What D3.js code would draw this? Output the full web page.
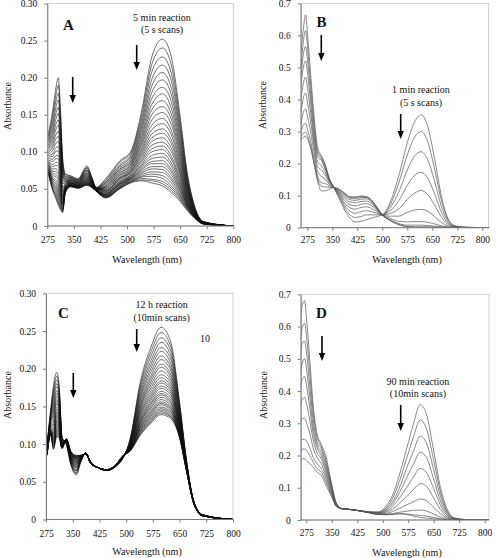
<!DOCTYPE html>
<html><head><meta charset="utf-8">
<script src="https://cdn.jsdelivr.net/npm/d3@7"></script>
<style>
body{margin:0;background:#fff}
svg{display:block}
svg text{font-family:"Liberation Serif","DejaVu Serif","Times New Roman",serif !important;fill:#111}
</style>
</head><body>
<svg id="chart" width="496" height="558" font-family="Liberation Serif, DejaVu Serif, serif"></svg>
<script>
// ---------- Panel A: 5 min reaction, 5 s scans (rows = wavelengths, columns = successive scans) ----------
const wlA = [278,290,300,306,312,318,326,340,362,387,400,413,440,480,510,540,570,600,625,650,670,690,715,800];
const absA = [
[.124,.121,.118,.115,.112,.109,.106,.104,.101,.099,.097,.095,.093,.091,.089,.088,.086,.085,.083,.082,.081,.079,.078,.077,.076,.075,.074,.073,.072,.071,.070],
[.155,.149,.142,.136,.130,.125,.120,.115,.110,.106,.102,.097,.094,.090,.087,.083,.080,.077,.074,.072,.069,.066,.064,.062,.060,.058,.056,.053,.051,.050,.048],
[.188,.179,.170,.161,.153,.145,.138,.131,.124,.118,.112,.106,.101,.095,.091,.086,.082,.077,.073,.069,.066,.062,.059,.056,.053,.050,.047,.044,.041,.038,.036],
[.200,.190,.179,.170,.160,.152,.143,.136,.128,.121,.114,.107,.101,.095,.090,.085,.080,.074,.070,.066,.062,.057,.054,.050,.047,.044,.040,.037,.033,.031,.028],
[.160,.152,.143,.136,.128,.121,.115,.108,.102,.097,.091,.086,.081,.076,.072,.068,.063,.059,.056,.052,.049,.046,.043,.040,.037,.034,.032,.029,.026,.024,.022],
[.095,.090,.086,.082,.077,.073,.070,.066,.063,.060,.057,.053,.051,.048,.046,.043,.041,.039,.037,.035,.033,.031,.030,.028,.027,.025,.023,.022,.020,.019,.018],
[.070,.069,.067,.066,.064,.063,.062,.061,.060,.059,.058,.057,.056,.055,.054,.053,.053,.052,.051,.051,.050,.049,.049,.048,.048,.047,.047,.046,.046,.045,.045],
[.068,.067,.066,.065,.065,.064,.063,.062,.062,.061,.061,.060,.059,.059,.058,.058,.058,.057,.057,.056,.056,.056,.055,.055,.055,.054,.054,.054,.054,.053,.053],
[.064,.063,.062,.062,.061,.060,.060,.059,.059,.058,.058,.057,.057,.056,.056,.055,.055,.055,.054,.054,.054,.053,.053,.053,.052,.052,.052,.052,.051,.051,.051],
[.081,.079,.078,.076,.075,.074,.072,.071,.070,.069,.068,.067,.066,.065,.064,.064,.063,.062,.061,.061,.060,.059,.059,.058,.058,.057,.057,.056,.056,.055,.055],
[.067,.066,.065,.064,.064,.063,.062,.061,.061,.060,.060,.059,.058,.058,.057,.057,.057,.056,.056,.055,.055,.055,.054,.054,.054,.053,.053,.053,.053,.052,.052],
[.052,.052,.051,.051,.051,.051,.050,.050,.050,.050,.050,.049,.049,.049,.049,.049,.049,.048,.048,.048,.048,.048,.048,.048,.048,.048,.047,.047,.047,.047,.047],
[.064,.062,.061,.059,.058,.057,.055,.054,.053,.052,.051,.050,.049,.048,.047,.047,.046,.045,.044,.044,.043,.042,.042,.041,.041,.040,.040,.039,.039,.038,.038],
[.088,.086,.083,.081,.079,.077,.076,.074,.072,.071,.069,.068,.066,.065,.064,.063,.061,.060,.059,.058,.057,.057,.056,.055,.054,.053,.053,.052,.051,.051,.050],
[.100,.098,.095,.093,.090,.088,.086,.084,.082,.081,.079,.077,.076,.074,.073,.072,.071,.069,.068,.067,.066,.065,.064,.064,.063,.062,.061,.060,.059,.059,.058],
[.152,.147,.141,.136,.131,.127,.122,.118,.114,.110,.107,.103,.100,.097,.094,.091,.088,.086,.083,.081,.079,.077,.075,.073,.071,.069,.067,.066,.064,.062,.061],
[.228,.218,.208,.198,.189,.180,.172,.164,.157,.150,.143,.136,.130,.124,.119,.114,.109,.104,.100,.095,.091,.087,.084,.080,.077,.073,.070,.067,.063,.061,.058],
[.252,.240,.228,.217,.207,.197,.187,.178,.169,.161,.153,.145,.138,.131,.125,.119,.113,.108,.103,.098,.093,.088,.084,.080,.076,.072,.068,.064,.060,.057,.054],
[.228,.217,.206,.196,.186,.177,.168,.159,.151,.144,.137,.129,.123,.116,.111,.105,.100,.094,.090,.085,.081,.076,.073,.069,.065,.062,.058,.054,.051,.048,.045],
[.148,.141,.134,.128,.122,.116,.110,.105,.100,.095,.091,.086,.082,.078,.074,.071,.068,.064,.061,.058,.055,.053,.050,.048,.046,.043,.041,.039,.037,.035,.033],
[.072,.069,.066,.063,.060,.058,.055,.053,.051,.049,.047,.045,.043,.041,.039,.038,.036,.035,.034,.032,.031,.030,.029,.028,.027,.026,.025,.024,.023,.022,.021],
[.028,.027,.026,.025,.024,.023,.022,.022,.021,.020,.020,.019,.018,.018,.017,.017,.016,.016,.015,.015,.014,.014,.014,.013,.013,.013,.012,.012,.012,.011,.011],
[.006,.006,.006,.005,.005,.005,.005,.005,.005,.005,.005,.004,.004,.004,.004,.004,.004,.004,.004,.004,.004,.004,.003,.003,.003,.003,.003,.003,.003,.003,.003],
[0,0,0,0,0,0,0,0,0,0,0,0,0,0,0,0,0,0,0,0,0,0,0,0,0,0,0,0,0,0,0]
];

// ---------- Panel B: 1 min reaction, 5 s scans (one row per scan) ----------
const wlB = [256,263,270,276,285,296,306,317,328,341,355,371,387,403,419,436,452,468,484,500,522,549,575,597,616,635,656,678,699,721,758,820];
const absB = [
[.55,.62,.664,.60,.48,.34,.25,.225,.20,.155,.125,.09,.055,.03,.018,.02,.025,.03,.035,.040,.075,.160,.265,.330,.352,.320,.220,.095,.025,.005,.001,0],
[.50,.58,.615,.56,.45,.32,.24,.22,.195,.152,.125,.095,.062,.04,.032,.035,.04,.04,.04,.040,.068,.138,.227,.283,.300,.272,.187,.082,.022,.004,.001,0],
[.47,.54,.565,.52,.42,.30,.23,.215,.19,.15,.125,.10,.07,.052,.045,.05,.053,.05,.045,.040,.06,.11,.18,.224,.237,.215,.148,.064,.017,.003,.001,0],
[.44,.50,.52,.48,.39,.28,.22,.21,.185,.148,.125,.104,.077,.062,.058,.063,.065,.06,.05,.040,.052,.083,.132,.163,.173,.157,.108,.047,.013,.003,0,0],
[.40,.45,.47,.435,.36,.265,.205,.195,.175,.145,.125,.108,.085,.072,.068,.073,.075,.068,.055,.040,.044,.058,.088,.108,.116,.105,.072,.032,.009,.002,0,0],
[.36,.405,.42,.39,.33,.25,.19,.18,.165,.14,.125,.111,.092,.08,.078,.082,.083,.075,.058,.040,.036,.036,.048,.055,.057,.052,.036,.016,.005,.001,0,0],
[.32,.36,.37,.345,.30,.23,.175,.16,.152,.135,.125,.114,.098,.087,.085,.089,.09,.08,.06,.040,.03,.02,.018,.019,.019,.017,.012,.006,.002,0,0,0],
[.30,.32,.325,.305,.27,.21,.16,.14,.138,.13,.125,.117,.103,.092,.09,.094,.094,.083,.062,.040,.026,.013,.008,.008,.008,.007,.005,.003,.001,0,0,0],
[.285,.295,.298,.285,.255,.20,.15,.13,.127,.126,.125,.119,.106,.095,.094,.097,.096,.085,.063,.040,.024,.01,.004,.003,.003,.003,.002,.001,0,0,0,0],
[.275,.282,.285,.275,.248,.195,.145,.115,.115,.12,.125,.12,.108,.097,.096,.099,.097,.086,.064,.040,.023,.009,.003,.001,.001,.001,.001,0,0,0,0,0]
];

// ---------- Panel C: 12 h reaction, 10 min scans (rows = wavelengths, columns = scans) ----------
const wlC = [278,288,296,305,312,320,332,345,360,372,387,400,425,445,470,492,510,540,570,598,625,650,670,690,715,800];
const absC = [
[.100,.099,.098,.097,.097,.096,.095,.094,.094,.093,.093,.092,.091,.091,.090,.090,.090,.089,.089,.088,.088,.088,.087,.087,.087,.086,.086,.086,.086,.085,.085],
[.145,.143,.141,.139,.137,.136,.134,.133,.131,.130,.129,.127,.126,.125,.124,.123,.122,.121,.120,.119,.118,.118,.117,.116,.116,.115,.114,.114,.113,.113,.112],
[.178,.173,.168,.163,.159,.154,.150,.146,.142,.139,.136,.132,.129,.126,.124,.121,.119,.116,.114,.112,.110,.108,.106,.104,.102,.101,.099,.097,.096,.094,.093],
[.195,.190,.185,.180,.176,.171,.167,.163,.159,.156,.153,.149,.146,.143,.141,.138,.136,.133,.131,.129,.127,.125,.123,.121,.119,.118,.116,.114,.113,.111,.110],
[.178,.174,.170,.166,.162,.158,.155,.152,.149,.146,.143,.140,.138,.135,.133,.131,.129,.127,.125,.123,.122,.120,.119,.117,.116,.114,.113,.112,.110,.109,.108],
[.110,.109,.108,.107,.106,.106,.105,.104,.103,.103,.102,.101,.101,.100,.100,.099,.099,.098,.098,.098,.097,.097,.096,.096,.096,.095,.095,.095,.095,.094,.094],
[.100,.100,.101,.101,.102,.102,.102,.103,.103,.103,.104,.104,.104,.104,.105,.105,.105,.105,.105,.106,.106,.106,.106,.106,.106,.106,.107,.107,.107,.107,.107],
[.072,.073,.074,.075,.076,.077,.078,.079,.080,.080,.081,.082,.082,.083,.084,.084,.085,.085,.086,.086,.087,.087,.087,.088,.088,.088,.089,.089,.090,.090,.090],
[.059,.061,.062,.064,.065,.066,.068,.069,.070,.071,.072,.073,.074,.075,.076,.076,.077,.078,.079,.079,.080,.081,.081,.082,.082,.083,.083,.084,.084,.085,.085],
[.075,.076,.076,.077,.077,.078,.078,.079,.079,.080,.080,.080,.081,.081,.081,.082,.082,.082,.083,.083,.083,.083,.084,.084,.084,.084,.084,.085,.085,.085,.085],
[.088,.088,.088,.088,.088,.088,.088,.088,.088,.088,.088,.088,.088,.088,.088,.087,.087,.087,.087,.087,.087,.087,.087,.087,.087,.087,.087,.087,.087,.087,.087],
[.076,.076,.076,.076,.076,.076,.076,.076,.076,.076,.076,.076,.076,.076,.076,.075,.075,.075,.075,.075,.075,.075,.075,.075,.075,.075,.075,.075,.075,.075,.075],
[.068,.068,.068,.068,.068,.068,.068,.068,.068,.068,.068,.068,.068,.068,.068,.068,.068,.068,.068,.068,.068,.068,.068,.068,.068,.068,.068,.068,.068,.068,.068],
[.065,.065,.065,.065,.065,.065,.065,.065,.065,.065,.065,.065,.065,.065,.065,.066,.066,.066,.066,.066,.066,.066,.066,.066,.066,.066,.066,.066,.066,.066,.066],
[.070,.070,.070,.070,.071,.071,.071,.071,.071,.071,.071,.071,.071,.071,.071,.071,.071,.071,.072,.072,.072,.072,.072,.072,.072,.072,.072,.072,.072,.072,.072],
[.082,.082,.083,.083,.083,.083,.083,.083,.083,.083,.084,.084,.084,.084,.084,.084,.084,.084,.084,.084,.084,.084,.084,.085,.085,.085,.085,.085,.085,.085,.085],
[.105,.104,.103,.102,.102,.101,.100,.099,.099,.098,.098,.097,.096,.096,.095,.095,.095,.094,.094,.093,.093,.093,.092,.092,.092,.091,.091,.091,.091,.090,.090],
[.183,.179,.175,.171,.167,.163,.160,.156,.153,.150,.148,.145,.142,.140,.138,.135,.133,.131,.129,.128,.126,.124,.123,.121,.120,.118,.117,.116,.114,.113,.112],
[.229,.223,.217,.211,.206,.201,.196,.191,.187,.183,.179,.175,.171,.167,.164,.161,.158,.155,.153,.150,.148,.145,.143,.141,.139,.137,.135,.133,.131,.130,.128],
[.255,.248,.241,.235,.228,.223,.217,.212,.206,.202,.197,.192,.188,.184,.181,.177,.174,.170,.167,.165,.162,.159,.156,.154,.152,.149,.147,.145,.143,.141,.139],
[.236,.230,.224,.218,.213,.207,.202,.198,.193,.189,.185,.181,.177,.174,.171,.168,.165,.162,.159,.156,.154,.151,.149,.147,.145,.143,.141,.139,.137,.136,.134],
[.156,.153,.150,.148,.145,.143,.140,.138,.136,.134,.132,.130,.128,.127,.125,.124,.122,.121,.120,.119,.117,.116,.115,.114,.113,.112,.111,.110,.109,.109,.108],
[.077,.076,.075,.075,.074,.073,.072,.072,.071,.071,.070,.069,.069,.068,.068,.068,.067,.067,.066,.066,.066,.065,.065,.065,.065,.064,.064,.064,.063,.063,.063],
[.024,.024,.024,.024,.023,.023,.023,.023,.023,.023,.023,.022,.022,.022,.022,.022,.022,.022,.022,.022,.022,.022,.022,.022,.022,.021,.021,.021,.021,.021,.021],
[.006,.006,.006,.006,.006,.006,.006,.006,.006,.006,.006,.006,.006,.006,.006,.005,.005,.005,.005,.005,.005,.005,.005,.005,.005,.005,.005,.005,.005,.005,.005],
[0,0,0,0,0,0,0,0,0,0,0,0,0,0,0,0,0,0,0,0,0,0,0,0,0,0,0,0,0,0,0]
];

// ---------- Panel D: 90 min reaction, 10 min scans (one row per scan) ----------
const wlD = [256,264,270,276,285,295,306,319,332,348,364,380,401,422,443,464,485,507,528,549,570,591,610,628,649,670,691,713,750,813];
const absD = [
[.60,.67,.68,.62,.50,.36,.27,.235,.20,.12,.05,.035,.033,.03,.028,.025,.025,.04,.075,.14,.22,.30,.358,.33,.22,.10,.03,.006,.001,0],
[.55,.60,.61,.565,.46,.34,.26,.228,.19,.115,.05,.035,.033,.03,.027,.025,.024,.035,.065,.12,.19,.26,.31,.285,.19,.087,.025,.005,.001,0],
[.50,.55,.555,.515,.42,.315,.245,.22,.18,.11,.05,.035,.033,.03,.027,.024,.023,.032,.055,.10,.16,.215,.26,.24,.16,.073,.021,.004,.001,0],
[.45,.49,.50,.465,.385,.29,.235,.21,.17,.105,.048,.035,.033,.03,.027,.024,.022,.029,.048,.085,.13,.175,.21,.195,.13,.058,.017,.003,0,0],
[.40,.44,.445,.415,.35,.27,.225,.20,.16,.10,.047,.035,.033,.03,.027,.023,.021,.026,.04,.068,.10,.135,.16,.148,.10,.045,.013,.003,0,0],
[.35,.375,.38,.36,.31,.25,.21,.19,.15,.095,.045,.035,.033,.03,.026,.023,.02,.023,.033,.052,.072,.095,.113,.105,.07,.032,.009,.002,0,0],
[.30,.315,.315,.30,.27,.225,.195,.175,.14,.09,.044,.035,.033,.03,.026,.022,.019,.02,.026,.036,.047,.057,.065,.06,.04,.019,.006,.001,0,0],
[.24,.25,.25,.245,.225,.195,.175,.16,.13,.085,.043,.035,.033,.03,.026,.022,.018,.018,.02,.024,.027,.03,.031,.028,.019,.009,.003,0,0,0],
[.21,.22,.22,.215,.20,.18,.16,.148,.12,.08,.042,.035,.033,.03,.026,.022,.018,.017,.018,.02,.019,.016,.014,.012,.008,.004,.001,0,0,0],
[.18,.19,.19,.185,.175,.165,.15,.138,.11,.075,.041,.035,.033,.03,.026,.021,.017,.016,.017,.019,.017,.012,.008,.006,.004,.002,.001,0,0,0]
];

// ---------- Axis ticks ----------
const xTicks = [275,350,425,500,575,650,725,800];
const yTicksSmall = [0,0.05,0.10,0.15,0.20,0.25,0.30];
const yTicksLarge = [0,0.1,0.2,0.3,0.4,0.5,0.6,0.7];

// ---------- Texts ----------
const letters = ["A","B","C","D"];
const notesA = ["5 min reaction","(5 s scans)"];
const notesB = ["1 min reaction","(5 s scans)"];
const notesC = ["12 h reaction","(10min scans)"];
const notesD = ["90 min reaction","(10min scans)"];

function scansFromColumns(wl, cols){
  const n = d3.min(cols, c => c.length);
  return d3.range(n).map(k => wl.map((w,i) => [w, cols[i][k]]));
}
function scansFromRows(wl, rows){
  return rows.map(r => wl.map((w,i) => [w, r[i]]));
}

const FONT = "'Liberation Serif','DejaVu Serif','Times New Roman',serif";
const svg = d3.select("#chart");
const fmt2 = d => d === 0 ? "0" : d3.format(".2f")(d);
const fmt1 = d => d === 0 ? "0" : d3.format(".1f")(d);

function panel(p){
  const g = svg.append("g").attr("font-family", FONT);
  const x = d3.scaleLinear().domain([275,800]).range([p.x0, p.x1]);
  const y = d3.scaleLinear().domain([0, p.ymax]).range([p.b, p.t]);
  g.append("rect").attr("x",p.l).attr("y",p.t).attr("width",p.r-p.l).attr("height",p.b-p.t)
    .attr("fill","none").attr("stroke","#c4c4c4").attr("stroke-width",0.8);
  const clipId = "clip"+p.letter;
  g.append("clipPath").attr("id",clipId).append("rect")
    .attr("x",p.l).attr("y",p.t-1).attr("width",p.r-p.l).attr("height",p.b-p.t+1);
  const line = d3.line().x(d=>x(d[0])).y(d=>y(d[1])).curve(d3.curveMonotoneX);
  g.append("g").attr("clip-path",`url(#${clipId})`).selectAll("path").data(p.series).join("path")
    .attr("d",line).attr("fill","none").attr("stroke",p.color).attr("stroke-width",p.sw);
  const ax = g.append("g").attr("transform",`translate(0,${p.b})`)
    .call(d3.axisBottom(x).tickValues(xTicks).tickSize(3).tickSizeOuter(0).tickPadding(p.xpad));
  ax.select(".domain").remove();
  g.append("line").attr("x1",p.l).attr("x2",p.r).attr("y1",p.b).attr("y2",p.b).attr("stroke","#7a7a7a");
  const ay = g.append("g").attr("transform",`translate(${p.l},0)`)
    .call(d3.axisLeft(y).tickValues(p.yticks).tickFormat(p.fmt).tickSize(3).tickSizeOuter(0).tickPadding(7));
  [ax,ay].forEach(a=>{
    a.attr("font-family", FONT);
    a.select(".domain").attr("stroke","#7a7a7a").attr("stroke-width",1);
    a.selectAll(".tick line").attr("stroke","#7a7a7a");
    a.selectAll("text").attr("font-family",FONT).attr("font-size",9.5).attr("fill","#111");
  });
  g.append("text").attr("x",p.wx).attr("y",p.wy).attr("text-anchor","middle")
    .attr("font-size",10).text("Wavelength (nm)");
  g.append("text").attr("transform",`translate(${p.ax},${p.ay}) rotate(-90)`).attr("text-anchor","middle")
    .attr("dy","0.35em").attr("font-size",10).text("Absorbance");
  g.append("text").attr("x",p.lx).attr("y",p.ly).attr("text-anchor","middle")
    .attr("font-size",15).attr("font-weight","bold").text(p.letter);
  p.notes.forEach((t,i)=>{
    g.append("text").attr("x",p.nx).attr("y",p.ny + i*12.5).attr("text-anchor","middle")
      .attr("font-size",10).text(t);
  });
  p.arrows.forEach(a=>{
    g.append("line").attr("x1",a[0]).attr("x2",a[0]).attr("y1",a[1]).attr("y2",a[2]-6)
      .attr("stroke","#000").attr("stroke-width",1.6);
    g.append("path").attr("d",`M${a[0]-3.2},${a[2]-8} L${a[0]+3.2},${a[2]-8} L${a[0]},${a[2]} Z`).attr("fill","#000");
  });
  return g;
}

panel({letter:letters[0], l:47.3, r:233.3, x0:47.3, x1:233.3, t:3.5, b:226, ymax:0.30, yticks:yTicksSmall, fmt:fmt2,
  series:scansFromColumns(wlA, absA), color:"#111", sw:0.6, xpad:7.5,
  wx:147, wy:263, ax:7, ay:106, lx:68.5, ly:30, notes:notesA, nx:162, ny:20.5,
  arrows:[[136.7,45,70],[72.7,77,103]]});
panel({letter:letters[1], l:300.7, r:488.7, x0:307.3, x1:482.3, t:3.3, b:227.7, ymax:0.7, yticks:yTicksLarge, fmt:fmt1,
  series:scansFromRows(wlB, absB), color:"#555", sw:0.7, xpad:6,
  wx:407, wy:263, ax:262, ay:105, lx:321.5, ly:26.5, notes:notesB, nx:421, ny:93,
  arrows:[[400.7,114,139],[321.3,35,61]]});
const pc = panel({letter:letters[2], l:46, r:233, x0:46, x1:233, t:293.3, b:519.5, ymax:0.30, yticks:yTicksSmall, fmt:fmt2,
  series:scansFromColumns(wlC, absC), color:"#111", sw:0.6, xpad:7.5,
  wx:147, wy:555, ax:7, ay:395, lx:63.5, ly:317.5, notes:notesC, nx:161.7, ny:308,
  arrows:[[136.7,329,352],[73.3,373,398]]});
pc.append("text").attr("x",205).attr("y",341.5).attr("text-anchor","middle").attr("font-size",10).text("10");
panel({letter:letters[3], l:300.7, r:489, x0:306.3, x1:484.7, t:294.3, b:520, ymax:0.7, yticks:yTicksLarge, fmt:fmt1,
  series:scansFromRows(wlD, absD), color:"#555", sw:0.7, xpad:6,
  wx:407, wy:556, ax:263, ay:395, lx:321.5, ly:318, notes:notesD, nx:418, ny:384.5,
  arrows:[[322,336,361],[400.7,405,431]]});
</script>
</body></html>
